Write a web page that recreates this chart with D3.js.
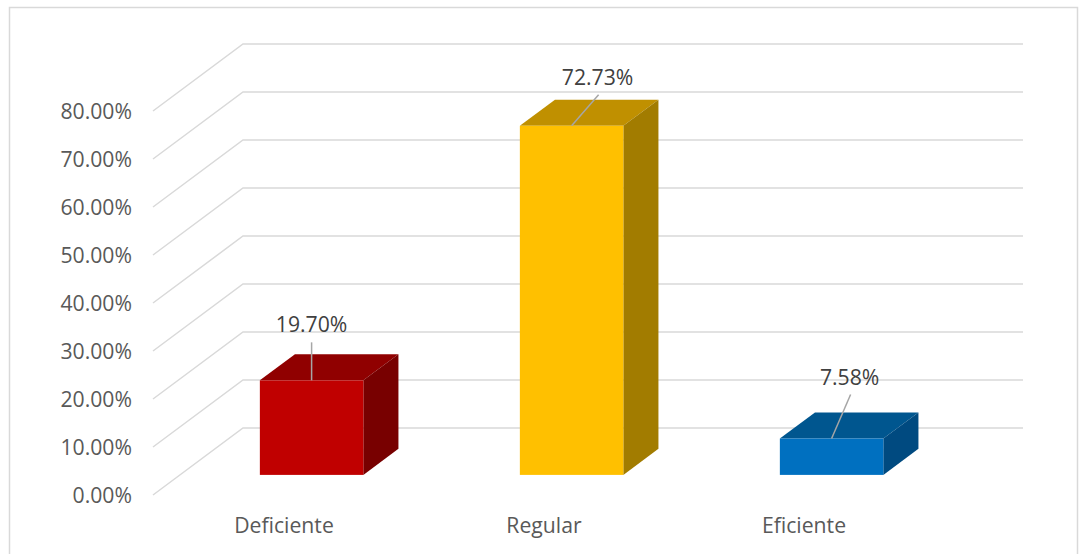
<!DOCTYPE html>
<html>
<head>
<meta charset="utf-8">
<script src="https://cdn.jsdelivr.net/npm/d3@7"></script>
<style>
  html, body { margin: 0; padding: 0; background: #fff; }
  svg { display: block; }
</style>
</head>
<body>
<svg id="chart" width="1079" height="554"></svg>
<script>
// Categories and percentages
const categories = ["Deficiente", "Regular", "Eficiente"];
const values = [19.70, 72.73, 7.58];
const valueLabels = ["19.70%", "72.73%", "7.58%"];
const tickValues = [0, 10, 20, 30, 40, 50, 60, 70, 80];
const tickLabels = ["0.00%", "10.00%", "20.00%", "30.00%", "40.00%", "50.00%", "60.00%", "70.00%", "80.00%"];

// Bar face colours: front, top, side
const frontColors = ["#C00000", "#FFC000", "#0070C0"];
const topColors = ["#900000", "#C09000", "#00568F"];
const sideColors = ["#780000", "#A27C00", "#004A80"];

// Manual label placement relative to the bar's top-front centre
const labelShiftX = [0, 26, 18];
const labelShiftY = [-48, -41, -54];

const svg = d3.select("#chart");
const font = "'Open Sans', 'Liberation Sans', sans-serif";
const fontSize = 21.2;

// Outer frame
svg.append("rect")
  .attr("x", 9.5).attr("y", 7.5)
  .attr("width", 1068).attr("height", 570)
  .attr("fill", "none").attr("stroke", "#d9d9d9").attr("stroke-width", 1.5);

// Front plane scales
const x = d3.scaleBand().domain(categories).range([153, 933]).paddingInner(0).paddingOuter(0);
const y = d3.scaleLinear().domain([0, 80]).range([495, 111]);

// Depth projection: t = 0 front plane, t = 1 back wall
const depthX = 90, depthY = -67;
const proj = (px, py, t) => [px + depthX * t, py + depthY * t];

const barFrac = 0.398;
const barNudge = 1.6;
const tFront = 0.30, tBack = 0.69;

const grid = svg.append("g").attr("stroke", "#d9d9d9").attr("stroke-width", 1.5).attr("fill", "none");
tickValues.forEach(v => {
  const [fx, fy] = proj(x.range()[0], y(v), 0);
  const [bx, by] = proj(x.range()[0], y(v), 1);
  const [ex] = proj(x.range()[1], y(v), 1);
  grid.append("path").attr("d", `M${fx},${fy}L${bx},${by}L${ex},${by}`);
});

// Value axis labels
svg.append("g")
  .selectAll("text")
  .data(tickValues)
  .join("text")
  .attr("x", 132)
  .attr("y", d => y(d) + 7.6)
  .attr("text-anchor", "end")
  .attr("font-family", font)
  .attr("font-size", fontSize)
  .attr("fill", "#595959")
  .text((d, i) => tickLabels[i]);

// Category labels
svg.append("g")
  .selectAll("text")
  .data(categories)
  .join("text")
  .attr("x", d => x(d) + x.bandwidth() / 2 + 1)
  .attr("y", 533)
  .attr("text-anchor", "middle")
  .attr("font-family", font)
  .attr("font-size", fontSize)
  .attr("fill", "#595959")
  .text(d => d);

// 3D bars
const pts = a => a.map(p => p.join(",")).join(" ");
const bars = svg.append("g");
categories.forEach((c, i) => {
  const w = x.bandwidth() * barFrac;
  const x0 = x(c) + (x.bandwidth() - w) / 2 + barNudge;
  const x1 = x0 + w;
  const yb = y(0), yt = y(values[i]);
  const g = bars.append("g");
  // top face
  g.append("polygon")
    .attr("points", pts([proj(x0, yt, tFront), proj(x1, yt, tFront), proj(x1, yt, tBack), proj(x0, yt, tBack)]))
    .attr("fill", topColors[i]);
  // side face
  g.append("polygon")
    .attr("points", pts([proj(x1, yt, tFront), proj(x1, yt, tBack), proj(x1, yb, tBack), proj(x1, yb, tFront)]))
    .attr("fill", sideColors[i]);
  // front face
  const [fx0, fy0] = proj(x0, yt, tFront);
  const [fx1, fy1] = proj(x1, yb, tFront);
  g.append("rect")
    .attr("x", fx0).attr("y", fy0)
    .attr("width", fx1 - fx0).attr("height", fy1 - fy0)
    .attr("fill", frontColors[i]);

  // data label with leader line
  const cx = (fx0 + fx1) / 2;
  const lx = cx + labelShiftX[i];
  const ly = fy0 + labelShiftY[i];
  g.append("line")
    .attr("x1", cx).attr("y1", fy0)
    .attr("x2", lx + (i === 0 ? 0 : 1)).attr("y2", ly + 10)
    .attr("stroke", "#a6a6a6").attr("stroke-width", 1.5);
  g.append("text")
    .attr("x", lx).attr("y", ly)
    .attr("text-anchor", "middle")
    .attr("font-family", font)
    .attr("font-size", fontSize)
    .attr("fill", "#404040")
    .text(valueLabels[i]);
});
</script>
</body>
</html>
